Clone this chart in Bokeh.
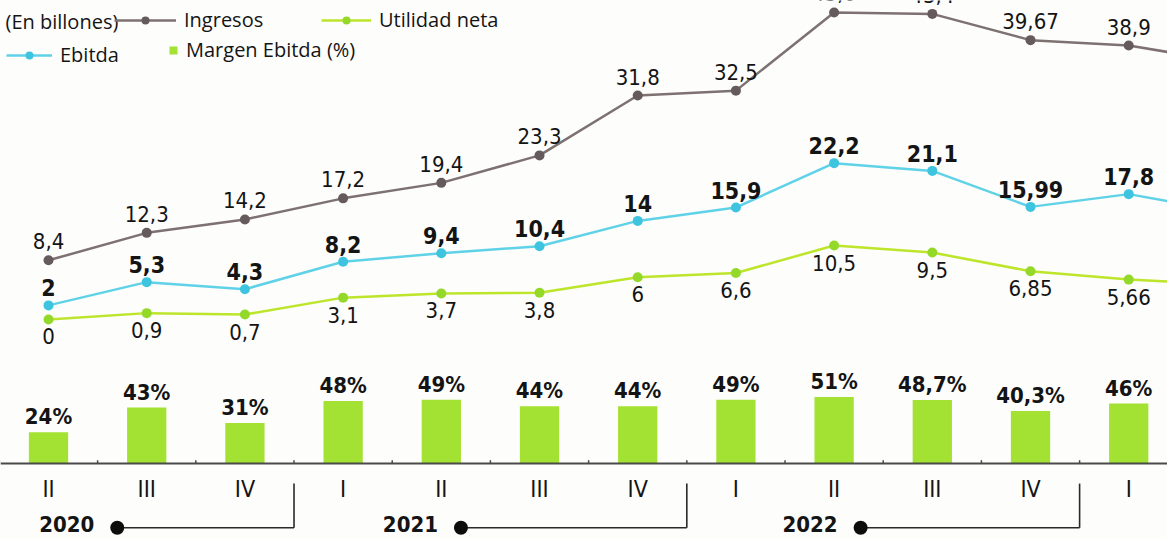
from bokeh.plotting import figure
from bokeh.models import (ColumnDataSource, Range1d, Span, Legend, LegendItem, Label)
from bokeh.core.properties import value
from bokeh.embed import file_html
from bokeh.resources import INLINE

# ---------------- data ----------------
quarters = ["II", "III", "IV", "I", "II", "III", "IV", "I", "II", "III", "IV", "I"]
years = ["2020", "2021", "2022"]
# last value of each line series = next quarter (cut off by the picture's right edge)
ingresos = [8.4, 12.3, 14.2, 17.2, 19.4, 23.3, 31.8, 32.5, 43.6, 43.4, 39.67, 38.9, 36.6]
ebitda = [2, 5.3, 4.3, 8.2, 9.4, 10.4, 14, 15.9, 22.2, 21.1, 15.99, 17.8, 15.3]
utilidad = [0, 0.9, 0.7, 3.1, 3.7, 3.8, 6, 6.6, 10.5, 9.5, 6.85, 5.66, 5.0]
margen = [24, 43, 31, 48, 49, 44, 44, 49, 51, 48.7, 40.3, 46]

# ---------------- helpers ----------------
def fmt(v):
    return f"{v:g}".replace(".", ",")

n = len(quarters)
xs = list(range(n))
xl = list(range(len(ingresos)))

NARROW = value("DejaVu Sans Condensed")
C_ING_L, C_ING_M = "#7d7171", "#665b5b"
C_EBI_L, C_EBI_M = "#5fd2e8", "#3ec4de"
C_UTI_L, C_UTI_M = "#bde52a", "#94d92a"
C_BAR = "#a3e232"
TXT = "#141414"

p = figure(width=1167, height=539, output_backend="svg", toolbar_location=None,
           x_range=Range1d(-0.489, 11.395), y_range=Range1d(-31.25, 45.3),
           x_axis_type=None, y_axis_type=None, min_border=0,
           background_fill_color="#fdfdfb", border_fill_color="#fdfdfb",
           outline_line_color=None)
p.extra_y_ranges = {"bars": Range1d(-58.5, 356)}

# ---------------- bars ----------------
bsrc = ColumnDataSource(dict(x=xs, top=margen, lab=[fmt(v) + "%" for v in margen], q=quarters))
r_bar = p.vbar(x="x", top="top", width=0.4, bottom=0, source=bsrc, y_range_name="bars",
               fill_color=C_BAR, line_color=None)
p.text(x="x", y="top", text="lab", source=bsrc, y_range_name="bars",
       text_align="center", text_baseline="bottom", y_offset=-3,
       text_font=NARROW, text_font_style="bold", text_font_size="22px", text_color=TXT)

# axis line and small boundary ticks
p.add_layout(Span(location=0, dimension="width", y_range_name="bars",
                  line_color="#4a4a4a", line_width=2))
bnd = [i + 0.5 for i in range(-1, n)]
p.segment(x0=bnd, x1=bnd, y0=[0] * len(bnd), y1=[2.5] * len(bnd), y_range_name="bars",
          line_color="#4a4a4a", line_width=1.5)

# quarter labels
p.text(x="x", y=0, text="q", source=bsrc, y_range_name="bars",
       text_align="center", text_baseline="middle", y_offset=26,
       text_font=NARROW, text_font_size="23px", text_color=TXT)

# year brackets
year_end = [i + 0.5 for i, q in enumerate(quarters) if q == "IV"]
dot_back = [1.8, 2.3, 2.23]
dots = [e - d for e, d in zip(year_end, dot_back)]
yb_top, yb_bot = -15.5, -49.5
p.segment(x0=dots, x1=year_end, y0=[yb_bot] * 3, y1=[yb_bot] * 3, y_range_name="bars",
          line_color="#2a2a2a", line_width=1.6)
p.segment(x0=year_end, x1=year_end, y0=[yb_bot] * 3, y1=[yb_top] * 3, y_range_name="bars",
          line_color="#2a2a2a", line_width=1.6)
p.scatter(x=dots, y=[yb_bot] * 3, y_range_name="bars", size=14, marker="circle",
          fill_color="#0d0d0d", line_color=None)
p.text(x=dots, y=[yb_bot] * 3, text=years, y_range_name="bars",
       text_align="right", text_baseline="middle", x_offset=-23, y_offset=-4,
       text_font=NARROW, text_font_style="bold", text_font_size="22px", text_color=TXT)

# ---------------- lines ----------------
lsrc = ColumnDataSource(dict(x=xl, ing=ingresos, ebi=ebitda, uti=utilidad))
lab_src = ColumnDataSource(dict(
    x=xs, ing=ingresos[:n], ebi=ebitda[:n], uti=utilidad[:n],
    ling=[fmt(v) for v in ingresos[:n]], lebi=[fmt(v) for v in ebitda[:n]],
    luti=[fmt(v) for v in utilidad[:n]]))

r_ing_l = p.line("x", "ing", source=lsrc, line_color=C_ING_L, line_width=2.5)
r_ing_m = p.scatter("x", "ing", source=lab_src, size=10, fill_color=C_ING_M, line_color=None)
r_uti_l = p.line("x", "uti", source=lsrc, line_color=C_UTI_L, line_width=2.5)
r_uti_m = p.scatter("x", "uti", source=lab_src, size=10, fill_color=C_UTI_M, line_color=None)
r_ebi_l = p.line("x", "ebi", source=lsrc, line_color=C_EBI_L, line_width=2.5)
r_ebi_m = p.scatter("x", "ebi", source=lab_src, size=10, fill_color=C_EBI_M, line_color=None)

p.text(x="x", y="ing", text="ling", source=lab_src, text_align="center",
       text_baseline="bottom", y_offset=-11, text_font=NARROW, text_font_size="22px",
       text_color=TXT)
p.text(x="x", y="ebi", text="lebi", source=lab_src, text_align="center",
       text_baseline="bottom", y_offset=-9, text_font=NARROW, text_font_style="bold",
       text_font_size="23px", text_color=TXT)
p.text(x="x", y="uti", text="luti", source=lab_src, text_align="center",
       text_baseline="top", y_offset=9, text_font=NARROW, text_font_size="22px",
       text_color=TXT)

# ---------------- legend ----------------
def mk_legend(label, rends, loc, gw, gh=20):
    lg = Legend(items=[LegendItem(label=label, renderers=rends, index=0)], location=loc,
                orientation="horizontal", glyph_width=gw, glyph_height=gh,
                label_standoff=8, padding=0, margin=0, spacing=0,
                border_line_alpha=0, background_fill_alpha=0,
                label_text_font="Open Sans", label_text_font_size="20px",
                label_text_color=TXT, label_height=gh)
    p.add_layout(lg, "center")

mk_legend("Ingresos", [r_ing_l, r_ing_m], (114, 506), 62)
mk_legend("Utilidad neta", [r_uti_l, r_uti_m], (321, 506), 50)
mk_legend("Ebitda", [r_ebi_l, r_ebi_m], (6, 471), 46)
mk_legend("Margen Ebitda (%)", [r_bar], (168, 476), 10, 10)

p.add_layout(Label(x=5, y=518, x_units="screen", y_units="screen", text="(En billones)",
                   text_font="Open Sans", text_font_size="20px", text_color=TXT,
                   text_baseline="middle"))

open("out.html", "w").write(file_html(p, INLINE))
